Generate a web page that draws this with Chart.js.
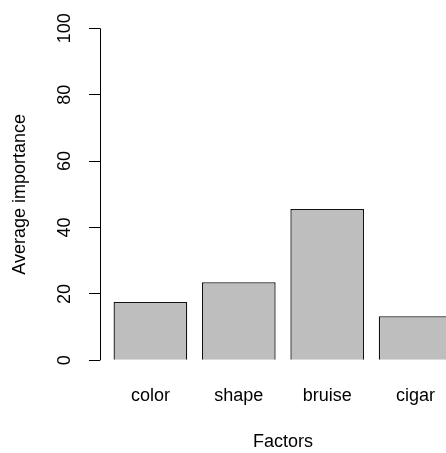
<!DOCTYPE html>
<html>
<head>
<meta charset="utf-8">
<script src="https://cdn.jsdelivr.net/npm/chart.js@4/dist/chart.umd.min.js"></script>
<style>
  html, body { margin: 0; padding: 0; background: #fff; overflow: hidden; }
  #wrap { width: 466px; height: 453px; }
</style>
</head>
<body>
<div id="wrap"><canvas id="c"></canvas></div>
<script>
  const categories = ['color', 'shape', 'bruise', 'cigar'];
  const importance = [17.6, 23.5, 45.6, 13.3];
  const yTicks = [0, 20, 40, 60, 80, 100];

  // barplot() style positions: width 1, space 0.2 -> centres at 0.7, 1.9, ...
  const barCentre = (i) => 0.7 + 1.2 * i;
  const FONT = { family: 'Liberation Sans, Arial, sans-serif', size: 18 };

  // R's axis line only spans the tick range, not the full plot region
  const axisLine = {
    id: 'axisLine',
    afterDraw(chart) {
      const y = chart.scales.y;
      const ctx = chart.ctx;
      ctx.save();
      ctx.strokeStyle = '#000';
      ctx.lineWidth = 1;
      ctx.beginPath();
      ctx.moveTo(y.right + 0.5, y.getPixelForValue(yTicks[0]));
      ctx.lineTo(y.right + 0.5, y.getPixelForValue(yTicks[yTicks.length - 1]));
      ctx.stroke();
      ctx.restore();
    }
  };

  new Chart(document.getElementById('c'), {
    type: 'bar',
    data: {
      datasets: [{
        data: importance.map((v, i) => ({ x: barCentre(i), y: v })),
        backgroundColor: '#bebebe',
        borderColor: '#111',
        borderWidth: 1.3,
        categoryPercentage: 1,
        barPercentage: 1 / 1.2
      }]
    },
    options: {
      responsive: true,
      maintainAspectRatio: false,
      animation: false,
      layout: { padding: { top: 15, right: 0, bottom: 0, left: 0 } },
      plugins: { legend: { display: false }, tooltip: { enabled: false } },
      scales: {
        x: {
          type: 'linear',
          offset: false,
          min: 0.016,
          max: 4.984,
          border: { display: false },
          grid: { display: false, drawTicks: false, offset: false },
          afterBuildTicks: (s) => { s.ticks = categories.map((c, i) => ({ value: barCentre(i) })); },
          afterFit: (s) => { s.height = 79.4; s.paddingLeft = 0; s.paddingRight = 0; },
          ticks: {
            autoSkip: false,
            maxRotation: 0,
            padding: 12,
            color: '#000',
            font: FONT,
            callback: (v, i) => categories[i]
          },
          title: { display: true, text: 'Factors', color: '#000', font: FONT, padding: { top: 0, bottom: 0 } }
        },
        y: {
          min: -4,
          max: 104,
          border: { display: false },
          grid: { drawOnChartArea: false, drawTicks: true, tickLength: 11, tickColor: '#000', lineWidth: 1 },
          afterBuildTicks: (s) => { s.ticks = yTicks.map(v => ({ value: v })); },
          afterFit: (s) => { s.width = 100; s.paddingTop = 0; s.paddingBottom = 0; },
          ticks: {
            minRotation: 90,
            maxRotation: 90,
            crossAlign: 'center',
            padding: 9,
            color: '#000',
            font: FONT,
            callback: (v) => String(v)
          },
          title: { display: true, text: 'Average importance', color: '#000', font: FONT, padding: { top: 9, bottom: 0 } }
        }
      }
    },
    plugins: [axisLine]
  });
</script>
</body>
</html>
